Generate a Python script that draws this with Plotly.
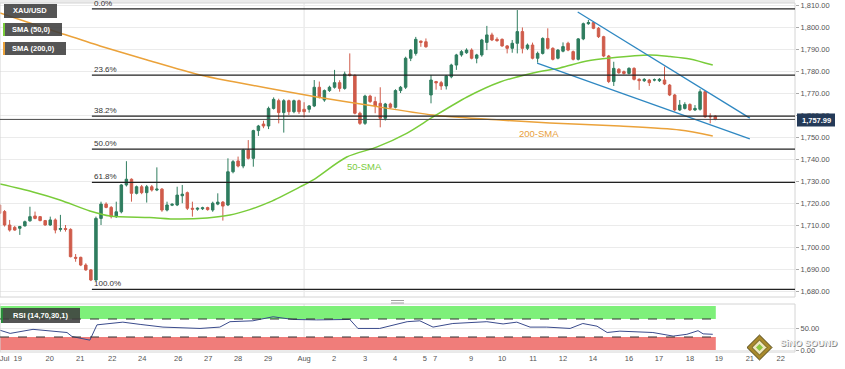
import plotly.graph_objects as go

# ---------------- data ----------------
opens = [1719.1,1716.1,1710.0,1708.9,1708.5,1709.6,1711.9,1714.1,1713.8,1712.0,
1710.0,1712.3,1708.0,1708.4,1708.0,1695.3,1695.3,1691.8,1689.6,1685.0,
1713.0,1719.5,1718.0,1713.8,1716.0,1728.2,1730.8,1724.4,1727.4,1724.7,
1727.4,1725.9,1726.3,1716.8,1719.0,1719.1,1723.3,1724.7,1717.6,1717.2,
1717.4,1717.9,1716.8,1719.5,1720.4,1719.1,1734.2,1739.1,1736.8,1744.1,
1740.3,1752.9,1755.9,1755.0,1763.0,1766.5,1761.1,1766.5,1761.5,1766.5,
1762.6,1762.6,1764.1,1772.6,1766.8,1771.1,1772.6,1774.7,1772.1,1778.6,
1778.0,1760.8,1756.2,1768.6,1766.1,1765.3,1758.5,1765.0,1763.5,1771.1,
1772.6,1785.8,1788.0,1793.6,1793.3,1769.1,1775.2,1774.7,1773.2,1777.4,
1782.7,1787.3,1788.3,1789.5,1785.8,1787.3,1793.0,1796.4,1794.4,1794.4,
1791.4,1790.3,1792.6,1797.9,1790.3,1791.8,1785.8,1788.0,1794.8,1790.3,
1785.8,1789.0,1792.6,1788.8,1785.3,1794.6,1801.5,1802.0,1799.4,1795.6,
1786.8,1775.2,1780.8,1779.7,1778.9,1781.2,1776.2,1775.6,1775.9,1775.9,
1775.6,1775.9,1773.6,1769.1,1762.3,1763.0,1764.8,1762.3,1762.6,1770.6,
1759.5,1759.5]

highs = [1724.4,1716.8,1712.3,1709.6,1709.6,1712.0,1718.3,1716.1,1714.1,1712.3,
1713.8,1713.0,1714.6,1710.0,1708.5,1696.8,1695.6,1692.6,1690.0,1713.8,
1720.6,1720.3,1718.6,1720.6,1728.6,1739.0,1731.2,1727.9,1728.2,1728.2,
1728.2,1736.2,1726.8,1720.6,1719.9,1727.4,1728.2,1725.2,1720.6,1718.0,
1718.3,1718.3,1720.6,1724.4,1720.9,1740.3,1739.5,1741.1,1744.6,1748.6,
1753.3,1755.5,1757.4,1763.8,1768.0,1767.4,1767.2,1767.0,1767.0,1767.0,
1765.8,1764.5,1775.9,1775.2,1771.6,1773.3,1780.5,1775.8,1779.7,1788.0,
1778.5,1761.5,1769.2,1769.2,1768.3,1772.6,1765.5,1765.6,1771.7,1773.2,
1786.5,1790.0,1795.5,1793.8,1794.8,1778.2,1775.5,1775.5,1778.2,1783.3,
1787.8,1789.5,1790.3,1790.3,1787.8,1794.6,1800.5,1797.4,1795.3,1794.8,
1791.8,1794.1,1807.7,1799.8,1792.5,1792.9,1788.8,1795.3,1799.4,1790.8,
1790.0,1793.0,1793.3,1789.3,1795.0,1802.0,1803.2,1802.5,1800.0,1796.0,
1787.3,1784.2,1781.3,1780.2,1781.7,1781.7,1776.7,1776.8,1776.4,1776.6,
1776.8,1782.0,1774.1,1769.6,1766.8,1765.8,1765.3,1764.5,1771.7,1771.0,
1760.8,1759.9]

lows = [1714.5,1709.3,1707.0,1707.4,1705.5,1709.3,1711.5,1712.6,1711.7,1709.7,
1709.6,1706.2,1707.0,1707.0,1695.3,1693.3,1691.3,1689.2,1684.5,1684.5,
1710.0,1717.6,1713.0,1713.2,1715.3,1727.5,1720.6,1723.9,1724.0,1720.2,
1725.2,1725.4,1716.0,1716.2,1718.6,1718.6,1719.9,1716.8,1713.8,1716.5,
1716.8,1716.5,1716.0,1719.0,1712.0,1718.6,1733.5,1736.2,1735.8,1739.8,
1736.5,1750.5,1754.0,1753.6,1762.5,1756.2,1752.0,1760.0,1760.8,1760.5,
1758.9,1761.1,1763.6,1767.5,1766.0,1770.5,1772.0,1770.6,1771.5,1777.5,
1760.3,1755.5,1755.5,1765.5,1760.8,1754.4,1757.5,1762.8,1763.0,1770.0,
1771.8,1784.5,1787.0,1791.0,1790.6,1765.3,1771.5,1771.4,1771.6,1776.7,
1780.5,1786.5,1787.8,1785.3,1783.5,1786.5,1789.5,1793.6,1793.3,1791.0,
1788.0,1788.3,1788.0,1788.0,1789.5,1785.3,1783.8,1787.5,1789.8,1784.8,
1785.3,1788.5,1789.0,1784.8,1784.8,1794.0,1801.0,1799.0,1795.0,1786.3,
1774.5,1773.2,1778.7,1778.4,1778.4,1775.7,1771.4,1775.0,1773.2,1775.3,
1775.0,1773.6,1768.6,1761.6,1761.8,1762.5,1761.8,1761.8,1762.0,1758.7,
1756.2,1757.6]

closes = [1715.3,1710.0,1707.7,1707.7,1709.3,1711.5,1713.8,1713.0,1712.0,1710.0,
1712.3,1707.7,1708.4,1708.0,1695.6,1694.9,1691.8,1689.6,1685.0,1713.0,
1719.5,1718.0,1713.8,1716.0,1728.2,1730.8,1724.4,1727.4,1724.7,1727.4,
1725.9,1726.3,1716.8,1719.1,1719.4,1723.6,1724.0,1717.6,1717.2,1717.6,
1717.8,1717.0,1719.9,1720.4,1718.6,1734.2,1738.8,1736.8,1744.1,1740.3,
1752.9,1755.0,1755.0,1763.0,1767.1,1761.1,1766.5,1761.5,1766.5,1761.5,
1761.5,1764.1,1772.6,1768.3,1771.1,1772.6,1774.7,1772.1,1778.6,1778.0,
1760.8,1756.2,1768.6,1766.1,1764.1,1758.5,1765.0,1763.5,1771.1,1772.6,
1785.8,1789.5,1794.4,1793.0,1791.0,1775.9,1774.6,1773.2,1777.7,1782.7,
1787.3,1788.8,1789.5,1785.8,1787.3,1794.1,1796.4,1794.1,1793.8,1791.4,
1790.3,1792.6,1797.9,1790.3,1791.8,1785.8,1788.0,1794.8,1790.3,1785.3,
1789.5,1791.1,1789.5,1785.3,1794.6,1801.5,1802.0,1799.4,1795.6,1786.8,
1775.2,1781.2,1779.2,1778.9,1781.2,1776.2,1775.6,1776.2,1774.7,1776.0,
1776.2,1774.1,1769.1,1762.3,1764.5,1764.8,1762.3,1763.0,1770.6,1759.2,
1759.2,1757.99]

candle_x = list(range(len(opens)))

sma50_x = [0.1, 6.6, 11.9, 17.8, 21.8, 29.6, 35.0, 40.9, 45.4, 49.3, 53.3, 59.2, 61.8,
           68.4, 74.4, 80.3, 85.4, 92.1, 98.6, 105.1, 110.4, 115.7, 120.3, 128.1, 132.1, 136.0, 140.5]
sma50_v = [1728.6, 1725.0, 1721.4, 1716.4, 1714.1, 1713.4, 1712.7, 1713.2, 1714.5, 1717.0, 1720.5,
           1727.3, 1730.5, 1740.9, 1745.5, 1751.8, 1759.1, 1768.2, 1775.0, 1779.1, 1781.4, 1784.5,
           1785.9, 1787.3, 1786.6, 1785.5, 1782.7]

sma200_x = [0.1, 6.0, 11.9, 19.8, 29.1, 39.5, 46.4, 52.7, 62.5, 72.4, 85.4, 98.6, 108.4, 122.2, 134.0, 140.5]
sma200_v = [1806.4, 1801.8, 1797.3, 1791.4, 1785.0, 1778.2, 1775.0, 1772.3, 1768.2, 1764.5,
            1760.0, 1757.7, 1756.4, 1755.0, 1753.2, 1750.5]

rsi_x = [0.1, 2.1, 6.6, 9.9, 13.3, 14.3, 17.8, 19.2, 24.3, 27.7, 32.2, 39.5, 43.4, 45.4, 49.9,
         53.9, 57.8, 62.5, 69.0, 70.6, 74.9, 80.3, 82.8, 85.4, 89.3, 96.0, 99.2, 101.9, 104.5,
         107.8, 112.4, 114.9, 117.7, 119.7, 122.2, 128.7, 132.7, 135.4, 137.6, 138.6, 140.5]
rsi_v = [45, 38, 47, 44, 40, 31, 23, 57, 63, 58, 52, 49, 52, 64, 66, 75, 69, 68, 69, 49, 49, 64,
         66, 52, 60, 64, 59, 63, 52, 52, 49, 60, 54, 40, 43, 40, 32, 36, 44, 37, 36]

tick_pos = [1.0, 3.6, 9.9, 15.9, 22.2, 28.1, 35.2, 41.1, 47.0, 52.9, 60.0, 65.9, 72.0, 77.9,
            83.8, 85.8, 92.9, 99.0, 105.1, 111.0, 116.9, 124.0, 129.9, 136.0, 141.7, 147.8, 153.9]
tick_text = ["Jul", "19", "20", "21", "22", "24", "26", "27", "28", "29", "Aug", "2", "3", "4",
             "5", "7", "9", "10", "11", "12", "14", "16", "17", "18", "19", "21", "22"]

price_ticks = list(range(1680, 1811, 10))

fib_ratios = [0.0, 23.6, 38.2, 50.0, 61.8, 100.0]
fib_high = 1808.2
fib_low = 1680.7
last_price = 1757.99

upper_trend_x = [113.9, 147.8]
upper_trend_v = [1806.8, 1758.6]
lower_trend_x = [105.9, 147.8]
lower_trend_v = [1783.6, 1749.1]

# ---------------- figure ----------------
W, H = 845, 369
ML, MR, MT, MB = 0, 50, 3, 17
PW, PH = W - ML - MR, H - MT - MB
X_RANGE = [0.1, 156.7]
FONT = "Liberation Sans, Arial, sans-serif"


def px(x):
    return (x - ML) / PW


def py(y):
    return (H - MB - y) / PH


GREEN = "#2f7d5f"
RED = "#cf5c4b"

fig = go.Figure()

fig.add_trace(go.Candlestick(
    x=candle_x, open=opens, high=highs, low=lows, close=closes,
    increasing=dict(line=dict(color=GREEN, width=1), fillcolor=GREEN),
    decreasing=dict(line=dict(color=RED, width=1), fillcolor=RED),
    whiskerwidth=0, hoverinfo="skip", xaxis="x", yaxis="y"))

fig.add_trace(go.Scatter(x=sma200_x, y=sma200_v, mode="lines",
                         line=dict(color="#eba23a", width=1.5, shape="spline", smoothing=0.8),
                         hoverinfo="skip", xaxis="x", yaxis="y"))
fig.add_trace(go.Scatter(x=sma50_x, y=sma50_v, mode="lines",
                         line=dict(color="#79cc3a", width=1.5, shape="spline", smoothing=0.8),
                         hoverinfo="skip", xaxis="x", yaxis="y"))
fig.add_trace(go.Scatter(x=upper_trend_x, y=upper_trend_v, mode="lines",
                         line=dict(color="#2f88c2", width=1.3), hoverinfo="skip",
                         xaxis="x", yaxis="y"))
fig.add_trace(go.Scatter(x=lower_trend_x, y=lower_trend_v, mode="lines",
                         line=dict(color="#2f88c2", width=1.3), hoverinfo="skip",
                         xaxis="x", yaxis="y"))
fig.add_trace(go.Scatter(x=rsi_x, y=rsi_v, mode="lines",
                         line=dict(color="#3a4b8c", width=1), hoverinfo="skip",
                         xaxis="x", yaxis="y2"))

shapes = []
annotations = []

# top strip
shapes.append(dict(type="rect", xref="paper", yref="paper", x0=0, x1=1, y0=1, y1=py(0),
                   fillcolor="#ebebeb", line=dict(width=0)))

# panel borders
shapes.append(dict(type="rect", xref="x domain", yref="y domain", x0=0, x1=1, y0=0, y1=1,
                   line=dict(color="#d4d4d4", width=1)))
shapes.append(dict(type="rect", xref="x domain", yref="y2 domain", x0=0, x1=1, y0=0, y1=1,
                   line=dict(color="#d4d4d4", width=1)))

# month separator
for yr in ["y domain", "y2 domain"]:
    shapes.append(dict(type="line", xref="x", yref=yr, x0=60, x1=60, y0=0, y1=1,
                       line=dict(color="#e2e2e2", width=1), layer="below"))

# RSI bands
shapes.append(dict(type="rect", xref="x", yref="y2", x0=X_RANGE[0], x1=141.1, y0=70, y1=99,
                   fillcolor="#7ef07a", line=dict(width=0), layer="below"))
shapes.append(dict(type="rect", xref="x", yref="y2", x0=X_RANGE[0], x1=141.1, y0=-1, y1=30,
                   fillcolor="#f07d7a", line=dict(width=0), layer="below"))
for lvl in [70, 30]:
    shapes.append(dict(type="line", xref="x", yref="y2", x0=X_RANGE[0], x1=141.1, y0=lvl, y1=lvl,
                       line=dict(color="#333", width=1, dash="dash")))

# fibonacci lines
for r in fib_ratios:
    lvl = fib_high - (fib_high - fib_low) * r / 100.0
    shapes.append(dict(type="line", xref="x", yref="y", x0=18.2, x1=X_RANGE[1], y0=lvl, y1=lvl,
                       line=dict(color="#222", width=1.2)))
    annotations.append(dict(x=18.2, y=lvl, xref="x", yref="y", text=f"{r:.1f}%",
                            showarrow=False, xanchor="left", yanchor="bottom",
                            font=dict(family=FONT, size=8, color="#333"), yshift=-1))

# last price line
shapes.append(dict(type="line", xref="x", yref="y", x0=X_RANGE[0], x1=X_RANGE[1],
                   y0=last_price, y1=last_price, line=dict(color="#4a4a4a", width=1)))

# SMA text labels
annotations.append(dict(x=68.1, y=1736.4, xref="x", yref="y", text="50-SMA", showarrow=False,
                        xanchor="left", yanchor="middle",
                        font=dict(family=FONT, size=9.5, color="#79cc3a")))
annotations.append(dict(x=101.9, y=1751.8, xref="x", yref="y", text="200-SMA", showarrow=False,
                        xanchor="left", yanchor="middle",
                        font=dict(family=FONT, size=9.5, color="#e8a03a")))

# legend boxes
boxes = [("XAU/USD", 4, 57, 4, 18, None),
         ("SMA (50,0)", 3, 62, 23, 36, "#79cc3a"),
         ("SMA (200,0)", 3, 66, 42, 55, "#eba23a")]
for text, x0, x1, y0, y1, stripe in boxes:
    shapes.append(dict(type="rect", xref="paper", yref="paper", x0=px(x0), x1=px(x1),
                       y0=py(y1), y1=py(y0), fillcolor="rgba(62,62,62,0.88)",
                       line=dict(width=0)))
    if stripe:
        shapes.append(dict(type="rect", xref="paper", yref="paper", x0=px(x0), x1=px(x0 + 2),
                           y0=py(y1), y1=py(y0), fillcolor=stripe, line=dict(width=0)))
    annotations.append(dict(x=px(x0 + 7), y=py((y0 + y1) / 2), xref="paper", yref="paper",
                            text=f"<b>{text}</b>", showarrow=False, xanchor="left",
                            yanchor="middle", font=dict(family=FONT, size=7.5, color="white")))

# RSI legend box
shapes.append(dict(type="rect", xref="paper", yref="paper", x0=px(3), x1=px(80),
                   y0=py(323), y1=py(308), fillcolor="rgba(62,62,62,0.88)", line=dict(width=0)))
shapes.append(dict(type="rect", xref="paper", yref="paper", x0=px(1), x1=px(3),
                   y0=py(323), y1=py(308), fillcolor="#2a8a3a", line=dict(width=0)))
annotations.append(dict(x=px(11), y=py(315.5), xref="paper", yref="paper",
                        text="<b>RSI (14,70,30,1)</b>", showarrow=False, xanchor="left",
                        yanchor="middle", font=dict(family=FONT, size=7.5, color="white")))

# pane separator handle
for yy in [300.5, 303.0]:
    shapes.append(dict(type="line", xref="paper", yref="paper", x0=px(391), x1=px(404),
                       y0=py(yy), y1=py(yy), line=dict(color="#a0a0a0", width=1)))

# last price tag
shapes.append(dict(type="rect", xref="paper", yref="paper", x0=px(797), x1=px(835),
                   y0=py(126.5), y1=py(113.5), fillcolor="#243a58", line=dict(width=0)))
annotations.append(dict(x=px(816), y=py(120), xref="paper", yref="paper",
                        text="<b>1,757.99</b>", showarrow=False, xanchor="center",
                        yanchor="middle", font=dict(family=FONT, size=7.5, color="white")))

# watermark logo
cx, cy, r = 759.5, 347.5, 12.5


def diamond(cx, cy, r):
    pts = [(cx, cy - r), (cx + r, cy), (cx, cy + r), (cx - r, cy)]
    return "M " + " L ".join(f"{px(a):.5f},{py(b):.5f}" for a, b in pts) + " Z"


shapes.append(dict(type="path", xref="paper", yref="paper", path=diamond(cx, cy, r),
                   fillcolor="#a8892c", line=dict(color="#4f4414", width=1)))
shapes.append(dict(type="path", xref="paper", yref="paper", path=diamond(cx, cy, 7.5),
                   fillcolor="#efe7c0", line=dict(color="#6b5a1e", width=1)))
shapes.append(dict(type="path", xref="paper", yref="paper", path=diamond(cx, cy, 3.5),
                   fillcolor="#8cc63f", line=dict(width=0)))
annotations.append(dict(x=px(778), y=py(343), xref="paper", yref="paper",
                        text="<b>SiNO SOUND</b>", showarrow=False, xanchor="left",
                        yanchor="middle", xshift=1, yshift=-1,
                        font=dict(family=FONT, size=9, color="#8a8a8a")))
annotations.append(dict(x=px(778), y=py(343), xref="paper", yref="paper",
                        text="<b>SiNO SOUND</b>", showarrow=False, xanchor="left",
                        yanchor="middle",
                        font=dict(family=FONT, size=9, color="#f4f4f4")))

fig.update_layout(
    width=W, height=H,
    margin=dict(l=ML, r=MR, t=MT, b=MB),
    paper_bgcolor="white", plot_bgcolor="white",
    showlegend=False,
    shapes=shapes, annotations=annotations,
    xaxis=dict(range=X_RANGE, tickvals=tick_pos, ticktext=tick_text, showgrid=False,
               zeroline=False, showline=False, ticks="", anchor="y2",
               rangeslider=dict(visible=False), ticklabeloverflow="allow",
               tickfont=dict(family=FONT, size=7.5, color="#555")),
    yaxis=dict(domain=[py(297), 1], range=[1810 - (297 - 5) / 2.2, 1810 - (3 - 5) / 2.2],
               side="right", anchor="x", tickvals=price_ticks, tickformat=",.2f",
               gridcolor="#ebebeb", zeroline=False, ticks="outside", ticklen=3,
               tickcolor="#aaa", tickfont=dict(family=FONT, size=7.5, color="#555")),
    yaxis2=dict(domain=[0, py(304)], range=[-1.5 / 0.45, 100 + 1.5 / 0.45],
                side="right", anchor="x", tickvals=[0, 50], ticktext=["0.00", "50.00"],
                gridcolor="#ebebeb", zeroline=False, ticks="outside", ticklen=3,
                tickcolor="#aaa", tickfont=dict(family=FONT, size=7.5, color="#555")),
)

fig.write_html("out.html", config={"displayModeBar": False},
               post_script="document.body.style.margin='0px';document.body.style.overflow='hidden';")
